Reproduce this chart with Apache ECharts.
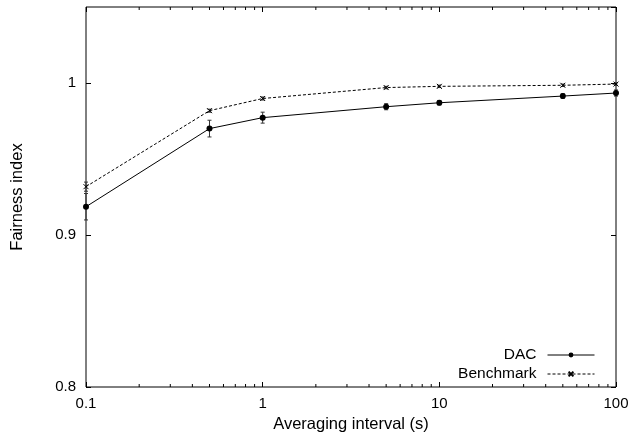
<!DOCTYPE html>
<html><head><meta charset="utf-8">
<script src="https://cdn.jsdelivr.net/npm/echarts@6/dist/echarts.min.js"></script>
<style>html,body{margin:0;padding:0;background:#fff}#c{width:634px;height:441px}</style>
</head><body><div id="c"></div>
<script>
var intervals = [0.1, 0.5, 1, 5, 10, 50, 100];
var dacValues = [0.9186, 0.970, 0.9772, 0.9844, 0.987, 0.9914, 0.9934];
var dacErrors = [0.0087, 0.0055, 0.0036, 0.002, 0.0015, 0.0015, 0.002];
var benchValues = [0.9318, 0.9818, 0.9898, 0.997, 0.9978, 0.9985, 0.9993];
var benchErrors = [0.003, 0.001, 0.001, 0.0008, 0.0008, 0.0008, 0.0008];
var xTickLabels = [0.1, 1, 10, 100];
var yTickLabels = [0.8, 0.9, 1];
var minorTickValues = [0.2,0.3,0.4,0.5,0.6,0.7,0.8,0.9,2,3,4,5,6,7,8,9,20,30,40,50,60,70,80,90];

var FONT = "'Liberation Sans', Arial, sans-serif";
var chart = echarts.init(document.getElementById('c'), null, {renderer:'canvas'});

function pairs(xs, ys){ return xs.map(function(x,i){return [x, ys[i]];}); }
function errData(xs, ys, es){ return xs.map(function(x,i){return [x, ys[i]-es[i], ys[i]+es[i]];}); }

function errRender(params, api){
  var x = api.value(0), lo = api.value(1), hi = api.value(2);
  var p1 = api.coord([x, lo]), p2 = api.coord([x, hi]);
  var w = 2;
  var st = {stroke:'#333', lineWidth:1};
  return {type:'group', children:[
    {type:'line', shape:{x1:p1[0],y1:p1[1],x2:p2[0],y2:p2[1]}, style:st},
    {type:'line', shape:{x1:p1[0]-w,y1:p1[1],x2:p1[0]+w,y2:p1[1]}, style:st},
    {type:'line', shape:{x1:p2[0]-w,y1:p2[1],x2:p2[0]+w,y2:p2[1]}, style:st}
  ]};
}

function minorRender(params, api){
  var v = api.value(0);
  var b = api.coord([v, 0.8]), t = api.coord([v, 1.05]);
  var st = {stroke:'#000', lineWidth:1};
  return {type:'group', children:[
    {type:'line', shape:{x1:b[0],y1:b[1],x2:b[0],y2:b[1]-3}, style:st},
    {type:'line', shape:{x1:t[0],y1:t[1],x2:t[0],y2:t[1]+3}, style:st}
  ]};
}

var xCommon = {
  type:'log', logBase:10, min:0.1, max:100,
  axisLine:{show:false},
  splitLine:{show:false},
  axisTick:{show:true, inside:true, length:5, lineStyle:{color:'#000'}}
};
var yCommon = {
  type:'value', min:0.8, max:1.05, interval:0.1,
  axisLine:{show:false},
  splitLine:{show:false},
  axisTick:{show:true, inside:true, length:5, lineStyle:{color:'#000'}}
};

chart.setOption({
  animation:false,
  backgroundColor:'#fff',
  textStyle:{fontFamily:FONT},
  grid:{left:86, right:18, top:7, bottom:54, show:true, borderColor:'#000', borderWidth:1, backgroundColor:'transparent'},
  xAxis:[
    Object.assign({}, xCommon, {
      position:'bottom',
      name:'Averaging interval (s)', nameLocation:'middle', nameGap:27,
      nameTextStyle:{fontFamily:FONT, fontSize:16.5, color:'#000'},
      axisLabel:{show:true, margin:9, fontFamily:FONT, fontSize:15, color:'#000',
        formatter:function(v){ return xTickLabels.indexOf(+(+v).toPrecision(6))>=0 ? String(+(+v).toPrecision(6)) : ''; }}
    }),
    Object.assign({}, xCommon, {position:'top', axisLabel:{show:false}})
  ],
  yAxis:[
    Object.assign({}, yCommon, {
      position:'left',
      name:'Fairness index', nameLocation:'middle', nameGap:60, nameRotate:90,
      nameTextStyle:{fontFamily:FONT, fontSize:16.5, color:'#000'},
      axisLabel:{show:true, margin:10, fontFamily:FONT, fontSize:15, color:'#000',
        showMaxLabel:false,
        formatter:function(v){ var r = Math.round(v*10)/10; return (Math.abs(v-r)<1e-6 && yTickLabels.indexOf(r)>=0) ? String(r) : ''; }}
    }),
    Object.assign({}, yCommon, {position:'right', axisLabel:{show:false}})
  ],
  legend:{
    orient:'vertical', right:39, top:347, align:'right', padding:0,
    itemWidth:47, itemHeight:6, itemGap:3,
    lineStyle:{width:1},
    textStyle:{fontFamily:FONT, fontSize:15.5, color:'#000', padding:[0,6,0,0]},
    data:['DAC','Benchmark']
  },
  series:[
    {
      name:'DAC', type:'line', data:pairs(intervals, dacValues),
      symbol:'circle', symbolSize:6,
      lineStyle:{color:'#000', width:1},
      itemStyle:{color:'#000'},
      z:5
    },
    {
      name:'Benchmark', type:'line', data:pairs(intervals, benchValues),
      symbol:'path://M0,0L10,10M10,0L0,10', symbolSize:5,
      lineStyle:{color:'#000', width:1, type:[3,2]},
      itemStyle:{color:'#000', borderColor:'#000', borderWidth:1},
      z:5
    },
    {type:'custom', renderItem:errRender, data:errData(intervals, dacValues, dacErrors), z:4, silent:true},
    {type:'custom', renderItem:errRender, data:errData(intervals, benchValues, benchErrors), z:4, silent:true},
    {type:'custom', renderItem:minorRender, data:minorTickValues.map(function(v){return [v];}), clip:false, silent:true, z:6}
  ]
});
</script></body></html>
